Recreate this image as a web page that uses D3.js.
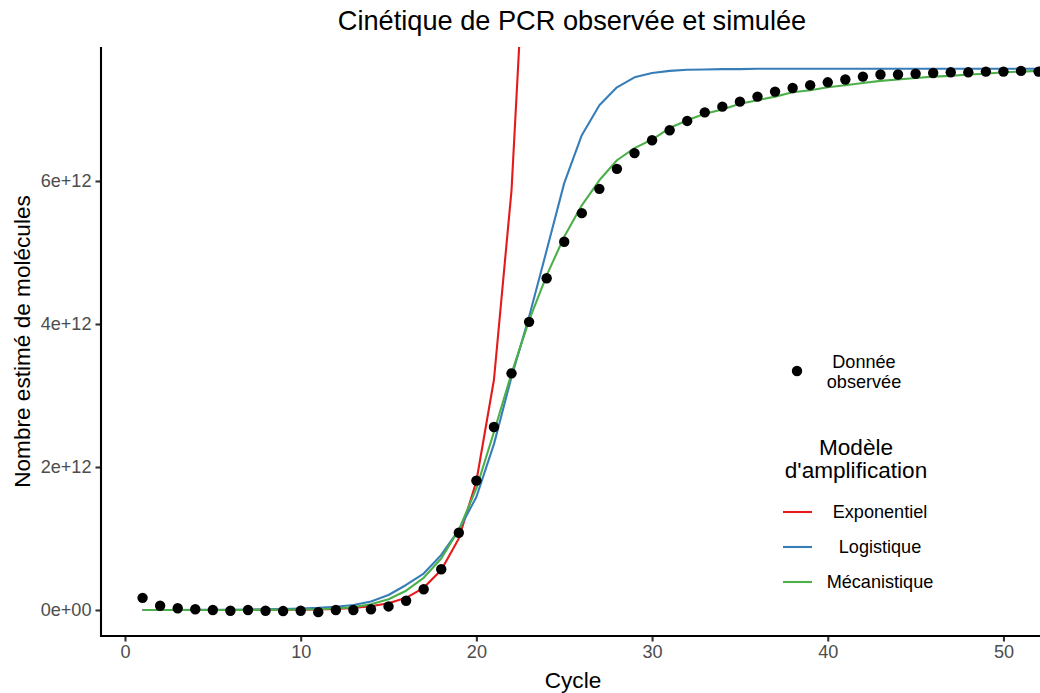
<!DOCTYPE html>
<html>
<head>
<meta charset="utf-8">
<script src="https://cdn.jsdelivr.net/npm/d3@7"></script>
<style>
  html, body { margin: 0; padding: 0; background: #fff; }
  svg { display: block; font-family: "Liberation Sans", Arial, Helvetica, sans-serif; }
</style>
</head>
<body>
<svg id="chart" width="1040" height="693"></svg>
<script>
// ---- Data (values in units of 1e12 molecules) ----
const cycles = d3.range(1, 53);
const observed = [0.17, 0.06, 0.025, 0.01, 0.0, -0.01, 0.0, -0.01, -0.015, -0.01,
  -0.03, 0.0, 0.0, 0.01, 0.05, 0.13, 0.29, 0.57, 1.08, 1.81,
  2.56, 3.31, 4.03, 4.64, 5.15, 5.55, 5.89, 6.17, 6.39, 6.57,
  6.71, 6.84, 6.96, 7.04, 7.11, 7.18, 7.25, 7.30, 7.34, 7.38,
  7.42, 7.46, 7.49, 7.49, 7.50, 7.51, 7.52, 7.52, 7.53, 7.53,
  7.54, 7.53];
const expCycles = d3.range(1, 24);
const exponential = [0.0, 0.0, 0.0, 0.0, 0.0, 0.0, 0.001, 0.002, 0.003, 0.005,
  0.009, 0.016, 0.029, 0.053, 0.095, 0.17, 0.31, 0.56, 1.0, 1.8,
  3.22, 5.87, 10.5];
const logistic = [0.0, 0.001, 0.001, 0.002, 0.003, 0.004, 0.006, 0.009, 0.013, 0.02,
  0.03, 0.046, 0.07, 0.12, 0.21, 0.35, 0.51, 0.77, 1.12, 1.58,
  2.32, 3.26, 4.10, 5.03, 5.97, 6.64, 7.06, 7.31, 7.45, 7.51,
  7.54, 7.555, 7.56, 7.565, 7.565, 7.57, 7.57, 7.57, 7.57, 7.57,
  7.57, 7.57, 7.57, 7.57, 7.57, 7.57, 7.57, 7.57, 7.57, 7.57,
  7.57, 7.57];
const mechanistic = [0.0, 0.0, 0.0, 0.0, 0.0, 0.0, 0.001, 0.002, 0.004, 0.006,
  0.01, 0.02, 0.04, 0.08, 0.15, 0.27, 0.45, 0.72, 1.12, 1.70,
  2.49, 3.31, 4.05, 4.68, 5.22, 5.66, 6.01, 6.29, 6.46, 6.58,
  6.74, 6.85, 6.94, 7.00, 7.08, 7.13, 7.18, 7.24, 7.27, 7.31,
  7.34, 7.37, 7.40, 7.42, 7.44, 7.46, 7.47, 7.49, 7.50, 7.52,
  7.53, 7.54];
const xTicks = [0, 10, 20, 30, 40, 50];
const yTicks = [0, 2, 4, 6];
const yTickLabels = ["0e+00", "2e+12", "4e+12", "6e+12"];
const modelNames = ["Exponentiel", "Logistique", "Mécanistique"];
const modelColors = ["#E41A1C", "#377EB8", "#4DAF4A"];
const titleText = "Cinétique de PCR observée et simulée";
const xLabel = "Cycle";
const yLabel = "Nombre estimé de molécules";
const pointLabel = ["Donnée", "observée"];
const legendTitle = ["Modèle", "d'amplification"];

// ---- Layout ----
const panel = { left: 101, right: 1040, top: 47, bottom: 636 };
const fsText = 18.1, fsTitle = 22.6, fsMain = 27.2;
const svg = d3.select("#chart");

const x = d3.scaleLinear().domain([-1.366, 52.08]).range([panel.left, panel.right]);
const y = d3.scaleLinear().domain([-0.3636, 7.874]).range([panel.bottom, panel.top]);

svg.append("defs").append("clipPath").attr("id", "clip")
  .append("rect")
  .attr("x", panel.left).attr("y", panel.top)
  .attr("width", panel.right - panel.left + 10).attr("height", panel.bottom - panel.top);

const plot = svg.append("g").attr("clip-path", "url(#clip)");

const series = [
  { name: modelNames[0], color: modelColors[0], xs: expCycles, ys: exponential },
  { name: modelNames[1], color: modelColors[1], xs: cycles, ys: logistic },
  { name: modelNames[2], color: modelColors[2], xs: cycles, ys: mechanistic }
];

const line = d3.line().x(d => x(d[0])).y(d => y(d[1]));
series.forEach(s => {
  plot.append("path")
    .datum(s.xs.map((c, i) => [c, s.ys[i]]))
    .attr("fill", "none")
    .attr("stroke", s.color)
    .attr("stroke-width", 2.1)
    .attr("stroke-linejoin", "round")
    .attr("d", line);
});

plot.selectAll("circle.obs")
  .data(cycles.map((c, i) => [c, observed[i]]))
  .join("circle")
  .attr("class", "obs")
  .attr("cx", d => x(d[0]))
  .attr("cy", d => y(d[1]))
  .attr("r", 5.2)
  .attr("fill", "#000");

// ---- Axes ----
const xAxis = d3.axisBottom(x).tickValues(xTicks).tickSize(5.5).tickPadding(4).tickFormat(d3.format("d"));
const gx = svg.append("g").attr("transform", `translate(0,${panel.bottom})`).call(xAxis);
gx.select(".domain").remove();
gx.append("line").attr("x1", panel.left).attr("x2", panel.right + 5)
  .attr("y1", 0).attr("y2", 0).attr("stroke", "#000").attr("stroke-width", 2.1);
gx.selectAll(".tick line").attr("stroke", "#333").attr("stroke-width", 2.1);
gx.selectAll(".tick text").attr("fill", "#4d4d4d").attr("font-size", fsText)
  .attr("font-family", "Liberation Sans, Arial, sans-serif");

const yAxis = d3.axisLeft(y).tickValues(yTicks).tickSize(5.5).tickPadding(4)
  .tickFormat((d, i) => yTickLabels[i]);
const gy = svg.append("g").attr("transform", `translate(${panel.left},0)`).call(yAxis);
gy.select(".domain").remove();
gy.append("line").attr("x1", 0).attr("x2", 0)
  .attr("y1", panel.top).attr("y2", panel.bottom + 1).attr("stroke", "#000").attr("stroke-width", 2.1);
gy.selectAll(".tick line").attr("stroke", "#333").attr("stroke-width", 2.1);
gy.selectAll(".tick text").attr("fill", "#4d4d4d").attr("font-size", fsText)
  .attr("font-family", "Liberation Sans, Arial, sans-serif");

// ---- Titles ----
svg.append("text").attr("x", 572).attr("y", 30).attr("text-anchor", "middle")
  .attr("font-size", fsMain).attr("fill", "#000").text(titleText);
svg.append("text").attr("x", 573).attr("y", 688).attr("text-anchor", "middle")
  .attr("font-size", fsTitle).attr("fill", "#000").text(xLabel);
svg.append("text").attr("transform", "translate(30,341.5) rotate(-90)")
  .attr("text-anchor", "middle").attr("font-size", fsTitle).attr("fill", "#000").text(yLabel);

// ---- Legend ----
const lg = svg.append("g");
lg.append("circle").attr("cx", 797).attr("cy", 371).attr("r", 5.2).attr("fill", "#000");
pointLabel.forEach((t, i) => {
  lg.append("text").attr("x", 864).attr("y", 368 + i * 20).attr("text-anchor", "middle")
    .attr("font-size", fsText).attr("fill", "#000").text(t);
});
legendTitle.forEach((t, i) => {
  lg.append("text").attr("x", 856).attr("y", 455 + i * 23).attr("text-anchor", "middle")
    .attr("font-size", fsTitle).attr("fill", "#000").text(t);
});
const rowY = [512, 547, 582];
series.forEach((s, i) => {
  lg.append("line").attr("x1", 783).attr("x2", 812).attr("y1", rowY[i]).attr("y2", rowY[i])
    .attr("stroke", s.color).attr("stroke-width", 2.1);
  lg.append("text").attr("x", 880).attr("y", rowY[i] + 6).attr("text-anchor", "middle")
    .attr("font-size", fsText).attr("fill", "#000").text(s.name);
});
</script>
</body>
</html>
